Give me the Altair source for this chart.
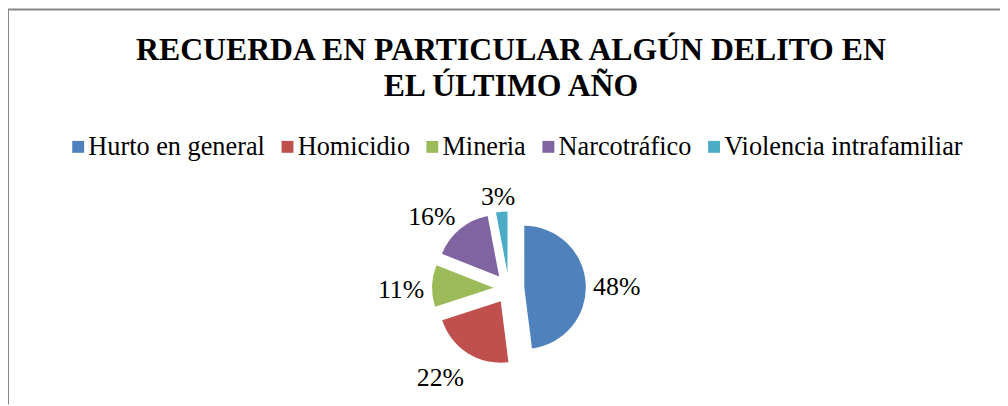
import altair as alt
import pandas as pd

# ---- data ----
categories = ["Hurto en general", "Homicidio", "Mineria", "Narcotráfico", "Violencia intrafamiliar"]
percentages = [48, 22, 11, 16, 3]
colors = ["#4F81BD", "#C0504D", "#9BBB59", "#8064A2", "#4BACC6"]
title_lines = ["RECUERDA EN PARTICULAR ALGÚN DELITO EN", "EL ÚLTIMO AÑO"]

# ---- layout (pixels) ----
W, H = 1000, 398
CX, CY = 505, 281          # pie centre
R = 62                     # pie radius
EXPLODE = 0.25             # slice explosion, fraction of radius
GAP = 0.13                 # label gap, fraction of radius
FONT = "Liberation Serif"

df = pd.DataFrame({"categoria": categories, "valor": percentages,
                   "orden": list(range(len(categories)))})

xs = alt.Scale(domain=[-1, 1], range=[CX - R, CX + R], nice=False, zero=False)
ys = alt.Scale(domain=[-1, 1], range=[CY - R, CY + R], nice=False, zero=False)

base = (
    alt.Chart(df)
    .transform_window(cum="sum(valor)", sort=[alt.SortField("orden")], frame=[None, 0])
    .transform_joinaggregate(total="sum(valor)")
    .transform_calculate(
        start="2*PI*(datum.cum - datum.valor)/datum.total",
        end="2*PI*datum.cum/datum.total",
        pct="format(datum.valor/datum.total, '.0%')",
    )
    .transform_calculate(mid="(datum.start + datum.end)/2")
    .transform_calculate(s="sin(datum.mid)", c="-cos(datum.mid)")
)

pie = base.transform_calculate(
    ax=f"{EXPLODE}*datum.s", ay=f"{EXPLODE}*datum.c"
).mark_arc(radius=R).encode(
    theta=alt.Theta("start:Q", scale=None, stack=None),
    theta2="end:Q",
    x=alt.X("ax:Q", scale=xs, axis=None),
    y=alt.Y("ay:Q", scale=ys, axis=None),
    color=alt.Color(
        "categoria:N",
        scale=alt.Scale(domain=categories, range=colors),
        sort=categories,
        legend=alt.Legend(
            title=None, orient="none", legendX=57.5, legendY=125,
            direction="horizontal", symbolType="square", symbolSize=144,
            symbolStrokeWidth=0, labelFont=FONT, labelFontSize=26.5,
            labelColor="#000000", labelOffset={"expr": "-3"}, columnPadding=9,
            labelLimit=600, padding=0,
        ),
    ),
)

LR = 1 + EXPLODE + GAP
labels = base.transform_calculate(
    lx=f"{LR}*datum.s + 0.125*length(datum.pct)*clamp(2*datum.s,-1,1)",
    ly=f"{LR}*datum.c + 0.2*clamp(3*datum.c,-1,1)",
).mark_text(font=FONT, fontSize=26, align="center", baseline="middle",
            dy=6, color="#000000").encode(
    x=alt.X("lx:Q", scale=xs, axis=None),
    y=alt.Y("ly:Q", scale=ys, axis=None),
    text="pct:N",
)

one = pd.DataFrame({"k": [0]})
title = alt.Chart(one).mark_text(
    font=FONT, fontSize=32, fontWeight="bold", align="center",
    baseline="alphabetic", lineHeight=37, color="#000000",
).encode(x=alt.value(CX + 2), y=alt.value(50.5), text=alt.value(title_lines))

border_top = alt.Chart(one).mark_rule(color="#878787", strokeWidth=2).encode(
    x=alt.value(0), x2=alt.value(W), y=alt.value(0))
border_left = alt.Chart(one).mark_rule(color="#878787", strokeWidth=2).encode(
    x=alt.value(0), y=alt.value(0), y2=alt.value(H))

chart = (
    alt.layer(border_top, border_left, title, pie, labels)
    .properties(width=W, height=H, padding=0, autosize=alt.AutoSizeParams(type="none"))
    .configure_view(stroke=None)
)

chart.save("out.html", embed_options={"renderer": "svg", "actions": False})
